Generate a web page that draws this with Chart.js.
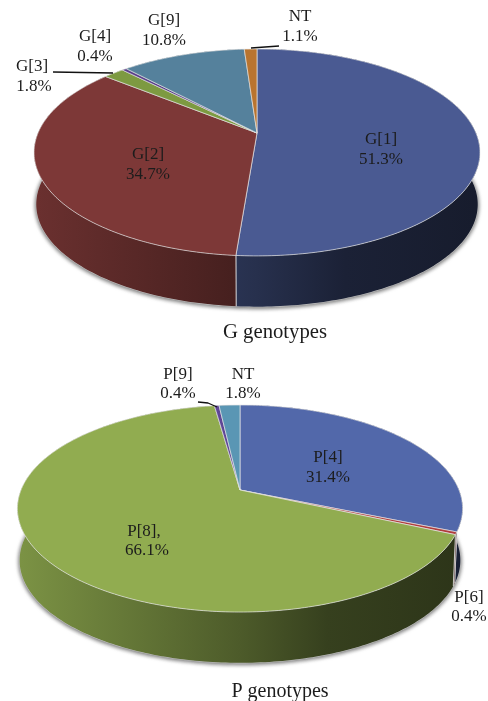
<!DOCTYPE html>
<html>
<head>
<meta charset="utf-8">
<style>
    html, body { margin: 0; padding: 0; background: #fff; }
    body { position: relative; width: 488px; height: 701px; overflow: hidden; }
    canvas { position: absolute; left: 0; top: 0; }
</style>
<script src="https://cdn.jsdelivr.net/npm/chart.js@4/dist/chart.umd.min.js"></script>
</head>
<body>
<canvas id="gChart" width="488" height="701"></canvas>
<canvas id="pChart" width="488" height="701"></canvas>
<script>
const gCategories = ["G[1]", "G[2]", "G[3]", "G[4]", "G[9]", "NT"];
const gValues = [51.3, 34.7, 1.8, 0.4, 10.8, 1.1];
const gColors = ["#4a5a92", "#7d3837", "#7d9a41", "#5a3f8a", "#55819c", "#b9742f"];

const pCategories = ["P[4]", "P[6]", "P[8],", "P[9]", "NT"];
const pValues = [31.4, 0.4, 66.1, 0.4, 1.8];
const pColors = ["#5268aa", "#b03c3c", "#91ac50", "#5f4696", "#5a96b4"];

// label anchors, one per category: [x, y of name, x, y of value]
const gLabelSpots = [
    [381, 140, 381, 160], [148, 155, 148, 175], [32, 67, 34, 87],
    [95, 37, 95, 57], [164, 21, 164, 41], [300, 17, 300, 37]
];
const pLabelSpots = [
    [328, 458, 328, 478], [469, 598, 469, 617], [144, 532, 147, 551],
    [178, 375, 178, 394], [243, 375, 243, 394]
];

const gLeaders = [[[53, 72], [113, 73]], [[251, 48], [279, 46]]];
const pLeaders = [[[198, 402], [208, 403], [217, 407]]];

const SERIF = '"Liberation Serif", "Times New Roman", serif';

function shade(hex, f) {
    const n = parseInt(hex.slice(1), 16);
    return `rgb(${Math.round((n >> 16) * f)}, ${Math.round(((n >> 8) & 255) * f)}, ${Math.round((n & 255) * f)})`;
}

// Draws the pie as a tilted disc: the arc angles come from Chart.js,
// only the projection onto the page happens here.
const tiltedPie = {
    id: "tiltedPie",
    beforeDatasetsDraw(chart, args, opts) {
        const ctx = chart.ctx;
        const arcs = chart.getDatasetMeta(0).data;
        const colors = chart.data.datasets[0].backgroundColor;

        function project(angle, lower) {
            const w = 1 - opts.k * Math.sin(angle);
            const s = lower ? opts.shrink : 1;
            return [
                opts.x0 + s * opts.a * Math.cos(angle) / w,
                opts.y0 + (lower ? opts.drop : 0) + s * opts.b * Math.sin(angle) / w
            ];
        }

        function rim(start, end, lower, reverse) {
            const steps = Math.max(2, Math.ceil((end - start) * 60));
            for (let i = 0; i <= steps; i++) {
                const t = reverse ? 1 - i / steps : i / steps;
                const p = project(start + (end - start) * t, lower);
                ctx.lineTo(p[0], p[1]);
            }
        }

        ctx.save();
        ctx.lineJoin = "round";

        // soft shadow and pale edge under the disc
        ctx.save();
        ctx.shadowColor = "rgba(0, 0, 0, 0.6)";
        ctx.shadowBlur = 4;
        ctx.shadowOffsetY = 1;
        ctx.fillStyle = "#c0c0c0";
        ctx.strokeStyle = "#bdbdbd";
        ctx.lineWidth = 1.2;
        ctx.beginPath();
        rim(0, Math.PI * 2, true, false);
        ctx.closePath();
        ctx.fill();
        ctx.stroke();
        ctx.restore();

        // side walls, back to front
        const order = arcs.map((a, i) => i).sort((i, j) =>
            Math.sin((arcs[i].startAngle + arcs[i].endAngle) / 2) -
            Math.sin((arcs[j].startAngle + arcs[j].endAngle) / 2));
        const left = opts.x0 - opts.a;
        const right = opts.x0 + opts.a;
        order.forEach(i => {
            const arc = arcs[i];
            const grad = ctx.createLinearGradient(left, 0, right, 0);
            grad.addColorStop(0, shade(colors[i], 0.85));
            grad.addColorStop(0.5, shade(colors[i], 0.53));
            grad.addColorStop(0.7, shade(colors[i], 0.37));
            grad.addColorStop(1, shade(colors[i], 0.31));
            ctx.fillStyle = grad;
            ctx.beginPath();
            rim(arc.startAngle, arc.endAngle, false, false);
            rim(arc.startAngle, arc.endAngle, true, true);
            ctx.closePath();
            ctx.fill();

            ctx.strokeStyle = "rgba(235, 235, 235, 0.85)";
            ctx.lineWidth = 0.8;
            [arc.startAngle, arc.endAngle].forEach(angle => {
                if (Math.sin(angle) < 0) return;
                const a = project(angle, false);
                const b = project(angle, true);
                ctx.beginPath();
                ctx.moveTo(a[0], a[1]);
                ctx.lineTo(b[0], b[1]);
                ctx.stroke();
            });
        });

        // top faces
        arcs.forEach((arc, i) => {
            ctx.beginPath();
            ctx.moveTo(opts.x0, opts.y0);
            rim(arc.startAngle, arc.endAngle, false, false);
            ctx.closePath();
            ctx.fillStyle = colors[i];
            ctx.fill();
            ctx.strokeStyle = "rgba(232, 232, 232, 0.85)";
            ctx.lineWidth = 0.8;
            ctx.stroke();
        });

        // leader lines
        ctx.strokeStyle = "#111";
        ctx.lineWidth = 1.3;
        opts.leaders.forEach(line => {
            ctx.beginPath();
            line.forEach(p => ctx.lineTo(p[0], p[1]));
            ctx.stroke();
        });

        // slice labels
        const values = chart.data.datasets[0].data;
        ctx.fillStyle = "#1c1c1c";
        ctx.font = "17px " + SERIF;
        ctx.textAlign = "center";
        ctx.textBaseline = "middle";
        chart.data.labels.forEach((name, i) => {
            const spot = opts.spots[i];
            ctx.fillText(name, spot[0], spot[1]);
            ctx.fillText(values[i].toFixed(1) + "%", spot[2], spot[3]);
        });

        // caption under the pie
        ctx.font = opts.captionSize + "px " + SERIF;
        ctx.fillText(opts.caption, opts.captionX, opts.captionY);

        ctx.restore();
        return false;
    }
};

function makePie(canvasId, labels, values, colors, geometry) {
    return new Chart(document.getElementById(canvasId), {
        type: "pie",
        data: {
            labels: labels,
            datasets: [{ data: values, backgroundColor: colors }]
        },
        options: {
            responsive: false,
            animation: false,
            events: [],
            plugins: {
                legend: { display: false },
                tooltip: { enabled: false },
                tiltedPie: geometry
            }
        },
        plugins: [tiltedPie]
    });
}

makePie("gChart", gCategories, gValues, gColors, {
    x0: 257, y0: 133, a: 219, b: 99.8, k: 0.188, drop: 52, shrink: 0.99,
    spots: gLabelSpots, leaders: gLeaders,
    caption: "G genotypes", captionSize: 20.7, captionX: 275, captionY: 333
});

makePie("pChart", pCategories, pValues, pColors, {
    x0: 240, y0: 490, a: 219, b: 100.2, k: 0.179, drop: 52, shrink: 0.99,
    spots: pLabelSpots, leaders: pLeaders,
    caption: "P genotypes", captionSize: 20, captionX: 280, captionY: 692
});
</script>
</body>
</html>
